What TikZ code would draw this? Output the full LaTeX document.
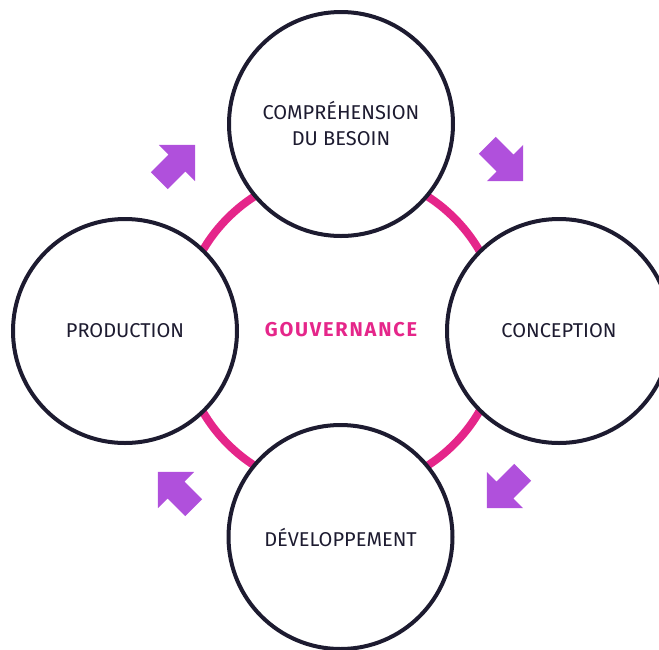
\documentclass[tikz,border=0pt]{standalone}
\usepackage{fontspec}
\setmainfont{Fira Sans}
\usepackage{tikz}
\usetikzlibrary{calc}

\definecolor{navy}{HTML}{1D1B30}
\definecolor{govpink}{HTML}{E5268A}
\definecolor{flowpurple}{HTML}{B050DC}

\begin{document}
\begin{tikzpicture}[x=1pt,y=1pt,
  stage/.style={circle,draw=navy,line width=4pt,fill=white,minimum size=224pt,
    inner sep=0pt,align=center,text=navy,font=\fontsize{20}{26}\selectfont},
  flow/.pic={\fill[flowpurple] (25.5,0) -- (0,25.5) -- (0,12) -- (-25,12)
    -- (-25,-12) -- (0,-12) -- (0,-25.5) -- cycle;}]
\clip (0,0) rectangle (659,-649);
% anneau central
\draw[govpink,line width=8pt] (341,-331) circle[radius=160];
\node[stage] (besoin) at (341,-124) {COMPRÉHENSION\\DU BESOIN};
\node[stage] (conception) at (559,-331) {CONCEPTION};
\node[stage] (dev) at (340.5,-537) {DÉVELOPPEMENT};
\node[stage] (production) at (125,-331) {PRODUCTION};
\node[text=govpink,font=\bfseries\fontsize{20}{24}\selectfont\addfontfeatures{LetterSpace=9}] (gouv) at (341,-330) {GOUVERNANCE};
% fleches du cycle
\pic[rotate=45] at (177,-163) {flow};
\pic[rotate=-45] at (505,-163) {flow};
\pic[rotate=-135] at (505,-490) {flow};
\pic[rotate=135] at (176,-490) {flow};
\end{tikzpicture}
\end{document}
